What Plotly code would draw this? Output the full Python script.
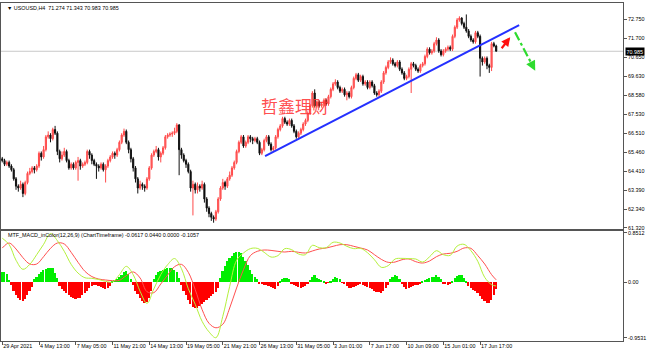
import plotly.graph_objects as go

# ---------------- data ----------------
opens = [65.1, 65.0, 64.8, 64.9, 64.7, 64.5, 64.0, 63.6, 63.5, 63.7,
         63.2, 63.8, 64.3, 64.4, 64.6, 64.5, 64.7, 65.4, 65.2, 65.6,
         66.3, 66.4, 66.2, 66.7, 66.5, 65.5, 65.1, 65.3, 65.5, 65.0,
         64.6, 64.8, 64.6, 64.9, 65.0, 64.7, 64.8, 64.9, 65.5, 65.3,
         65.0, 64.8, 64.7, 64.6, 64.8, 64.5, 64.7, 65.0, 65.2, 65.4,
         65.3, 65.6, 66.0, 66.4, 66.6, 66.0, 65.6, 65.1, 64.6, 64.0,
         63.5, 63.7, 63.6, 63.5, 64.0, 64.6, 65.3, 65.5, 65.6, 65.2,
         65.4, 65.7, 66.3, 66.4, 66.45, 66.5, 66.6, 66.95, 65.6, 65.3,
         65.0, 64.8, 64.4, 63.5, 63.7, 63.4, 63.6, 63.5, 63.7, 62.9,
         62.4, 62.1, 61.9, 61.8, 62.2, 62.9, 63.5, 63.8, 63.6, 64.0,
         64.2, 64.6, 64.9, 65.5, 66.0, 66.3, 65.8, 66.0, 66.3, 66.2,
         66.1, 66.2, 66.0, 65.4, 65.6, 66.1, 66.3, 65.9, 65.6, 65.7,
         66.3, 66.7, 66.9, 67.3, 67.1, 67.0, 67.2, 66.9, 66.6, 66.3,
         66.5, 66.7, 67.0, 67.2, 67.6, 68.0, 68.7, 68.0, 68.2, 68.0,
         68.1, 68.3, 68.1, 68.5, 68.9, 69.2, 69.3, 69.0, 68.8, 68.9,
         68.6, 68.7, 68.5, 69.0, 69.5, 69.7, 69.4, 69.6, 69.2, 69.3,
         69.0, 69.3, 69.1, 68.7, 68.6, 68.8, 69.3, 69.8, 70.1, 70.4,
         70.5, 70.3, 70.2, 70.4, 70.0, 69.8, 69.5, 69.6, 70.0, 70.3,
         70.2, 70.0, 69.9, 70.2, 70.3, 70.7, 71.1, 70.9, 71.0, 71.4,
         71.6, 71.0, 70.8, 71.0, 71.1, 71.2, 71.1, 71.8, 72.3, 72.7,
         72.8, 72.5, 72.3, 72.1, 71.8, 71.6, 71.5, 72.0, 71.8, 70.6,
         70.4, 70.6, 70.2, 70.1, 71.4, 71.274]

closes = [65.0, 64.8, 64.9, 64.7, 64.5, 64.0, 63.6, 63.5, 63.7, 63.2,
          63.8, 64.3, 64.4, 64.6, 64.5, 64.7, 65.4, 65.2, 65.6, 66.3,
          66.4, 66.2, 66.7, 66.5, 65.5, 65.1, 65.3, 65.5, 65.0, 64.6,
          64.8, 64.6, 64.9, 65.0, 64.7, 64.8, 64.9, 65.5, 65.3, 65.0,
          64.8, 64.7, 64.6, 64.8, 64.5, 64.7, 65.0, 65.2, 65.4, 65.3,
          65.6, 66.0, 66.4, 66.6, 66.0, 65.6, 65.1, 64.6, 64.0, 63.5,
          63.7, 63.6, 63.5, 64.0, 64.6, 65.3, 65.5, 65.6, 65.2, 65.4,
          65.7, 66.3, 66.4, 66.45, 66.5, 66.6, 66.95, 65.6, 65.3, 65.0,
          64.8, 64.4, 63.5, 63.7, 63.4, 63.6, 63.5, 63.7, 62.9, 62.4,
          62.1, 61.9, 61.8, 62.2, 62.9, 63.5, 63.8, 63.6, 64.0, 64.2,
          64.6, 64.9, 65.5, 66.0, 66.3, 65.8, 66.0, 66.3, 66.2, 66.1,
          66.2, 66.0, 65.4, 65.6, 66.1, 66.3, 65.9, 65.6, 65.7, 66.3,
          66.7, 66.9, 67.3, 67.1, 67.0, 67.2, 66.9, 66.6, 66.3, 66.5,
          66.7, 67.0, 67.2, 67.6, 68.0, 68.7, 68.0, 68.2, 68.0, 68.1,
          68.3, 68.1, 68.5, 68.9, 69.2, 69.3, 69.0, 68.8, 68.9, 68.6,
          68.7, 68.5, 69.0, 69.5, 69.7, 69.4, 69.6, 69.2, 69.3, 69.0,
          69.3, 69.1, 68.7, 68.6, 68.8, 69.3, 69.8, 70.1, 70.4, 70.5,
          70.3, 70.2, 70.4, 70.0, 69.8, 69.5, 69.6, 70.0, 70.3, 70.2,
          70.0, 69.9, 70.2, 70.3, 70.7, 71.1, 70.9, 71.0, 71.4, 71.6,
          71.0, 70.8, 71.0, 71.1, 71.2, 71.1, 71.8, 72.3, 72.7, 72.8,
          72.5, 72.3, 72.1, 71.8, 71.6, 71.5, 72.0, 71.8, 70.6, 70.4,
          70.6, 70.2, 70.1, 71.4, 71.274, 70.985]

highs = [65.2, 65.1, 65.0, 65.0, 64.8, 64.6, 64.1, 63.7, 63.9, 63.8,
         63.9, 64.4, 64.6, 64.7, 64.7, 64.8, 65.5, 65.5, 65.8, 66.4,
         66.6, 66.5, 66.8, 66.9, 66.6, 65.6, 65.5, 65.7, 65.6, 65.1,
         64.9, 64.9, 65.0, 65.2, 65.1, 64.9, 65.0, 65.6, 65.6, 65.4,
         65.1, 64.9, 64.8, 64.9, 64.9, 64.8, 65.1, 65.3, 65.5, 65.5,
         65.7, 66.1, 66.5, 66.75, 66.7, 66.1, 65.7, 65.2, 64.7, 64.1,
         63.9, 63.8, 63.7, 64.1, 64.7, 65.4, 65.6, 65.8, 65.7, 65.5,
         65.8, 66.4, 66.5, 66.55, 66.6, 66.8, 67.05, 67.0, 65.7, 65.4,
         65.1, 64.9, 64.5, 63.9, 63.8, 63.8, 63.7, 63.9, 63.8, 63.0,
         62.5, 62.2, 62.0, 62.3, 63.0, 63.6, 64.0, 63.9, 64.1, 64.4,
         64.7, 65.0, 65.6, 66.1, 66.4, 66.4, 66.1, 66.4, 66.4, 66.3,
         66.3, 66.3, 66.1, 65.7, 66.2, 66.4, 66.4, 66.0, 65.8, 66.4,
         66.8, 67.0, 67.4, 67.4, 67.2, 67.3, 67.3, 67.0, 66.7, 66.6,
         66.8, 67.1, 67.3, 67.7, 68.1, 68.8, 68.9, 68.3, 68.3, 68.2,
         68.4, 68.4, 68.6, 69.0, 69.3, 69.45, 69.4, 69.1, 69.0, 69.0,
         68.8, 68.8, 69.1, 69.6, 69.8, 69.8, 69.7, 69.7, 69.4, 69.4,
         69.4, 69.4, 69.2, 68.8, 68.9, 69.4, 69.9, 70.2, 70.5, 70.65,
         70.6, 70.4, 70.5, 70.5, 70.1, 69.9, 69.7, 70.1, 70.4, 70.4,
         70.3, 70.1, 70.3, 70.4, 70.8, 71.2, 71.2, 71.1, 71.5, 71.75,
         71.7, 71.1, 71.1, 71.2, 71.3, 71.3, 71.9, 72.4, 72.8, 72.9,
         72.85, 72.6, 73.0, 72.2, 71.9, 71.7, 72.1, 72.1, 71.9, 70.7,
         70.7, 70.7, 70.3, 71.5, 71.5, 71.343]

lows = [64.9, 64.7, 64.7, 64.6, 64.4, 63.9, 63.4, 63.3, 63.4, 63.0,
        63.1, 63.7, 64.2, 64.3, 64.3, 64.4, 64.6, 65.0, 65.1, 65.5,
        66.2, 66.0, 66.1, 66.4, 65.3, 64.9, 65.0, 65.2, 64.9, 64.5,
        64.5, 64.5, 64.5, 63.9, 64.5, 64.6, 64.7, 64.8, 65.1, 64.8,
        64.7, 64.0, 64.4, 64.5, 64.4, 63.8, 64.6, 64.9, 65.1, 65.1,
        65.2, 65.5, 65.9, 66.3, 65.9, 65.4, 64.9, 64.4, 63.8, 63.2,
        63.4, 63.4, 63.3, 63.4, 63.9, 64.5, 65.2, 65.4, 65.0, 64.9,
        65.3, 65.6, 66.2, 66.3, 66.3, 66.4, 66.5, 64.2, 65.1, 64.9,
        64.6, 64.3, 63.3, 62.0, 63.2, 63.2, 63.3, 63.4, 62.7, 62.2,
        61.9, 61.7, 61.6, 61.7, 62.1, 62.8, 63.4, 63.4, 63.5, 63.9,
        64.1, 64.5, 64.8, 65.4, 65.9, 65.7, 65.7, 65.9, 66.0, 65.9,
        66.0, 65.9, 65.3, 65.3, 65.5, 66.0, 65.8, 65.5, 65.5, 65.6,
        66.2, 66.6, 66.8, 67.0, 66.9, 66.9, 66.8, 66.5, 66.2, 66.2,
        66.4, 66.6, 66.9, 67.1, 67.5, 67.9, 67.9, 67.9, 67.9, 67.9,
        68.0, 68.0, 68.0, 68.4, 68.8, 69.1, 68.9, 68.7, 68.7, 68.5,
        68.3, 68.4, 68.4, 68.9, 69.4, 69.3, 69.3, 69.1, 69.1, 68.9,
        68.9, 69.0, 68.6, 68.5, 68.5, 68.7, 69.2, 69.7, 70.0, 70.3,
        70.2, 70.1, 70.1, 69.9, 69.7, 69.4, 69.4, 69.5, 68.7, 70.1,
        69.9, 69.8, 69.8, 70.1, 70.2, 70.6, 70.8, 70.8, 70.9, 71.3,
        70.9, 70.7, 70.7, 70.9, 71.0, 71.0, 71.0, 71.7, 72.2, 72.6,
        72.4, 72.2, 72.0, 71.7, 71.5, 71.4, 71.4, 71.7, 69.6, 70.2,
        70.3, 70.0, 69.8, 69.9, 71.2, 70.983]

hist = [0.18, 0.17, 0.14, 0.04, -0.05, -0.15, -0.22, -0.27, -0.31, -0.32,
        -0.28, -0.22, -0.15, -0.08, 0.06, 0.10, 0.15, 0.18, 0.21, 0.23,
        0.245, 0.25, 0.24, 0.16, 0.07, -0.07, -0.11, -0.15, -0.18, -0.22,
        -0.25, -0.27, -0.28, -0.27, -0.26, -0.22, -0.18, -0.14, -0.09, -0.06,
        -0.05, -0.05, -0.06, -0.08, -0.09, -0.11, -0.10, -0.06, 0.02, 0.04,
        0.06, 0.09, 0.13, 0.17, 0.20, 0.14, 0.06, -0.05, -0.14, -0.20,
        -0.27, -0.32, -0.36, -0.34, -0.26, -0.15, 0.05, 0.12, 0.17, 0.20,
        0.22, 0.235, 0.245, 0.25, 0.24, 0.22, 0.18, 0.08, -0.05, -0.15,
        -0.22, -0.30, -0.37, -0.42, -0.44, -0.44, -0.41, -0.37, -0.34, -0.31,
        -0.27, -0.23, -0.20, -0.17, -0.10, 0.08, 0.20, 0.29, 0.36, 0.42,
        0.46, 0.50, 0.53, 0.53, 0.50, 0.44, 0.37, 0.30, 0.22, 0.15,
        0.10, 0.06, -0.02, -0.03, -0.04, -0.05, -0.06, -0.08, -0.10, -0.11,
        -0.07, 0.02, 0.06, 0.08, 0.08, 0.05, -0.03, -0.05, -0.07, -0.08,
        -0.09, -0.08, -0.06, -0.03, 0.04, 0.10, 0.13, 0.08, 0.06, 0.04,
        0.02, -0.02, -0.01, 0.02, 0.06, 0.09, 0.08, 0.05, -0.01, -0.03,
        -0.06, -0.09, -0.10, -0.08, -0.06, -0.04, -0.03, -0.04, -0.06, -0.08,
        -0.10, -0.12, -0.14, -0.16, -0.17, -0.18, -0.15, -0.10, -0.04, 0.05,
        0.10, 0.13, 0.11, 0.05, -0.03, -0.08, -0.11, -0.10, -0.08, -0.07,
        -0.05, -0.04, -0.02, 0.02, 0.04, 0.06, 0.08, 0.09, 0.10, 0.12,
        0.10, 0.05, -0.02, -0.03, -0.05, -0.03, 0.03, 0.07, 0.11, 0.13,
        0.12, 0.07, 0.03, -0.06, -0.10, -0.13, -0.15, -0.18, -0.23, -0.28,
        -0.32, -0.35, -0.36, -0.30, -0.22, -0.11]

# MACD lines sampled every third bar (last one at the final bar)
line_idx = list(range(0, 214, 3)) + [215]
macd_main = [0.76, 0.65, 0.38, 0.225, 0.31, 0.477, 0.654, 0.84, 0.717, 0.534,
             0.31, 0.16, 0.08, 0.07, 0.05, 0.018, 0.007, 0.133, 0.276, 0.133,
             -0.153, -0.36, -0.11, 0.133, 0.305, 0.41, 0.236, -0.11, -0.377, -0.67,
             -0.85, -0.95, -0.583, -0.068, 0.38, 0.505, 0.58, 0.585, 0.517, 0.436,
             0.46, 0.58, 0.562, 0.488, 0.477, 0.637, 0.597, 0.597, 0.689, 0.677,
             0.62, 0.58, 0.585, 0.51, 0.39, 0.259, 0.288, 0.402, 0.413, 0.408,
             0.402, 0.35, 0.44, 0.545, 0.477, 0.465, 0.625, 0.654, 0.545, 0.362,
             0.087, -0.039, -0.062]
macd_signal = [0.59, 0.677, 0.574, 0.425, 0.316, 0.316, 0.442, 0.585, 0.677, 0.66,
               0.517, 0.345, 0.19, 0.1, 0.058, 0.041, 0.03, 0.036, 0.116, 0.18,
               0.076, -0.16, -0.176, -0.027, 0.127, 0.27, 0.31, 0.173, -0.125, -0.468,
               -0.703, -0.78, -0.72, -0.44, -0.096, 0.219, 0.46, 0.534, 0.557, 0.55,
               0.534, 0.522, 0.534, 0.517, 0.505, 0.54, 0.574, 0.591, 0.62, 0.648,
               0.648, 0.62, 0.591, 0.557, 0.477, 0.396, 0.345, 0.35, 0.39, 0.402,
               0.356, 0.333, 0.368, 0.442, 0.488, 0.5, 0.534, 0.591, 0.585, 0.46,
               0.316, 0.133, 0.044]

date_tick_idx = [0, 16, 32, 48, 64, 80, 96, 112, 128, 144, 160, 176, 192, 208]
date_tick_labels = ["29 Apr 2021", "4 May 13:00", "7 May 05:00", "11 May 21:00",
                    "14 May 13:00", "19 May 05:00", "21 May 21:00", "26 May 13:00",
                    "31 May 05:00", "3 Jun 01:00", "7 Jun 17:00", "10 Jun 09:00",
                    "15 Jun 01:00", "17 Jun 17:00"]
price_ticks = [72.75, 71.70, 70.65, 69.63, 68.58, 67.53, 66.51, 65.46, 64.41, 63.39, 62.34, 61.32]
macd_ticks = [0.8512, 0.0, -0.9531]
macd_tick_labels = ["0.8512", "0.00", "-0.9531"]

last_price = 70.985
trend_pts = [(114.4, 65.25), (225.0, 72.42)]
red_arrow = [(217.4, 71.15), (221.1, 71.75)]
green_arrow = [(223.2, 72.02), (232.0, 69.92)]
watermark_pos = (127.5, 68.04)

title_text = "\u25BC USOUSD,H4  71.274 71.343 70.983 70.985"
macd_title = "MTF_MACD_inColor(12,26,9) (ChartTimeframe) -0.0617 0.0440 0.0000 -0.1057"

# ---------------- figure ----------------
bars = list(range(len(closes)))
FONT = "Liberation Sans"
FS = 5.4
AXC = "#555555"

fig = go.Figure()
fig.add_trace(go.Candlestick(
    x=bars, open=opens, high=highs, low=lows, close=closes,
    xaxis="x2", yaxis="y",
    increasing=dict(line=dict(color="#FF4A4A", width=1), fillcolor="#FF7070"),
    decreasing=dict(line=dict(color="#111111", width=1), fillcolor="#000000"),
    whiskerwidth=0, showlegend=False, hoverinfo="skip"))

fig.add_trace(go.Bar(
    x=bars, y=hist, xaxis="x", yaxis="y2", width=0.72,
    marker=dict(color=["#00EE00" if v >= 0 else "#FF0000" for v in hist], line=dict(width=0)),
    showlegend=False, hoverinfo="skip"))
fig.add_trace(go.Scatter(
    x=line_idx, y=macd_signal, xaxis="x", yaxis="y2", mode="lines",
    line=dict(color="#FF5050", width=1, shape="spline"), showlegend=False, hoverinfo="skip"))
fig.add_trace(go.Scatter(
    x=line_idx, y=macd_main, xaxis="x", yaxis="y2", mode="lines",
    line=dict(color="#B4F03C", width=1, shape="spline"), showlegend=False, hoverinfo="skip"))

xr = [-0.54, 270.2]
common_ax = dict(showline=True, linecolor=AXC, linewidth=1, mirror=True,
                 showgrid=False, zeroline=False, fixedrange=True, automargin=False)
tfont = dict(family=FONT, size=FS, color="black")
fig.update_layout(
    width=648, height=355,
    margin=dict(l=1, r=25, t=3, b=14),
    paper_bgcolor="white", plot_bgcolor="white",
    showlegend=False, bargap=0,
    font=tfont,
    xaxis=dict(domain=[0, 1], anchor="y2", range=xr, tickmode="array",
               tickvals=date_tick_idx, ticktext=date_tick_labels,
               ticks="outside", ticklen=3, tickcolor=AXC, tickangle=0,
               tickfont=tfont, ticklabelposition="outside right",
               rangeslider=dict(visible=False), **common_ax),
    xaxis2=dict(domain=[0, 1], anchor="y", range=xr, matches="x",
                showticklabels=False, ticks="",
                rangeslider=dict(visible=False), **common_ax),
    yaxis=dict(domain=[0.331, 1], anchor="x2", side="right", range=[61.249, 73.626],
               tickmode="array", tickvals=price_ticks,
               ticktext=[f"{v:.3f}" for v in price_ticks],
               ticks="outside", ticklen=3, tickcolor=AXC, tickfont=tfont, **common_ax),
    yaxis2=dict(domain=[0, 0.3254], anchor="x", side="right", range=[-1.007, 0.883],
                tickmode="array", tickvals=macd_ticks, ticktext=macd_tick_labels,
                ticks="outside", ticklen=3, tickcolor=AXC, tickfont=tfont, **common_ax),
)

shapes = [
    dict(type="line", xref="x2 domain", yref="y", x0=0, x1=1, y0=last_price, y1=last_price,
         line=dict(color="#C8C8C8", width=1), layer="below"),
    dict(type="line", xref="x2", yref="y",
         x0=trend_pts[0][0], y0=trend_pts[0][1], x1=trend_pts[1][0], y1=trend_pts[1][1],
         line=dict(color="#2430FF", width=2)),
]
(rx0, ry0), (rx1, ry1) = red_arrow
(gx0, gy0), (gx1, gy1) = green_arrow
shapes.append(dict(type="line", xref="x2", yref="y", x0=rx0, y0=ry0,
                   x1=rx0 + (rx1 - rx0) * 0.7, y1=ry0 + (ry1 - ry0) * 0.7,
                   line=dict(color="#FF1010", width=2.2, dash="dash")))
shapes.append(dict(type="line", xref="x2", yref="y", x0=gx0, y0=gy0,
                   x1=gx0 + (gx1 - gx0) * 0.86, y1=gy0 + (gy1 - gy0) * 0.86,
                   line=dict(color="#2EDB2E", width=2.2, dash="dashdot")))
fig.update_layout(shapes=shapes)

ann = [
    dict(xref="paper", yref="paper", x=0.0064, y=0.985, xanchor="left", yanchor="middle",
         text=title_text, showarrow=False, font=tfont),
    dict(xref="paper", yref="paper", x=0.008, y=0.3136, xanchor="left", yanchor="middle",
         text=macd_title, showarrow=False, font=tfont),
    dict(xref="paper", yref="y", x=1, y=last_price, xanchor="left", yanchor="middle",
         xshift=2, text=f"{last_price:.3f}", showarrow=False, bgcolor="black",
         borderpad=0.5, font=dict(family=FONT, size=FS, color="white")),
    dict(xref="x2", yref="y", x=watermark_pos[0], y=watermark_pos[1],
         text="哲鑫理财", showarrow=False,
         font=dict(family="Noto Sans CJK SC", size=17, color="rgba(255,55,55,0.9)")),
    dict(xref="x2", yref="y", axref="x2", ayref="y", x=rx1, y=ry1,
         ax=rx0 + (rx1 - rx0) * 0.65, ay=ry0 + (ry1 - ry0) * 0.65, text="",
         showarrow=True, arrowhead=2, arrowsize=0.8, arrowwidth=2.2, arrowcolor="#FF1010"),
    dict(xref="x2", yref="y", axref="x2", ayref="y", x=gx1, y=gy1,
         ax=gx0 + (gx1 - gx0) * 0.8, ay=gy0 + (gy1 - gy0) * 0.8, text="",
         showarrow=True, arrowhead=2, arrowsize=0.9, arrowwidth=2.2, arrowcolor="#2EDB2E"),
]
fig.update_layout(annotations=ann)

fig.write_html("out.html")
